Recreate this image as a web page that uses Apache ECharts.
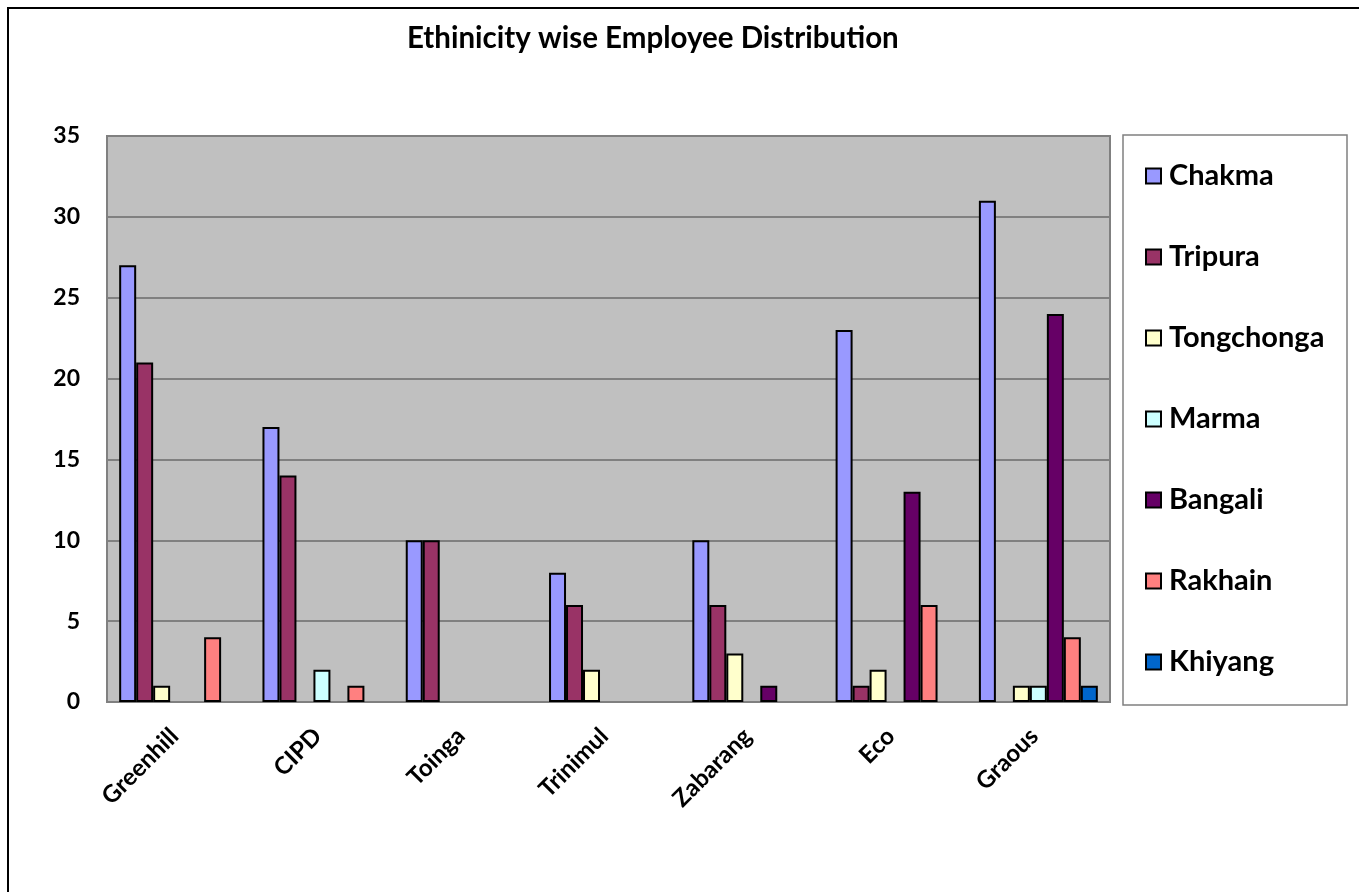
<!DOCTYPE html>
<html>
<head>
<meta charset="utf-8">
<script src="https://cdn.jsdelivr.net/npm/echarts@6/dist/echarts.min.js"></script>
<style>
  html, body { margin: 0; padding: 0; background: #fff; }
  #chart { width: 1359px; height: 892px; }
</style>
</head>
<body>
<div id="chart"></div>
<script>
// categories (x axis)
const companies = ['Greenhill', 'CIPD', 'Toinga', 'Trinimul', 'Zabarang', 'Eco', 'Graous']
const yTicks = [0, 5, 10, 15, 20, 25, 30, 35]

// one array per ethnicity, same order as companies
const chakma     = [27, 17, 10, 8, 10, 23, 31]
const tripura    = [21, 14, 10, 6, 6, 1, 0]
const tongchonga = [1, 0, 0, 2, 3, 2, 1]
const marma      = [0, 2, 0, 0, 0, 0, 1]
const bangali    = [0, 0, 0, 0, 1, 13, 24]
const rakhain    = [4, 1, 0, 0, 0, 6, 4]
const khiyang    = [0, 0, 0, 0, 0, 0, 1]

const seriesList = [
  { name: 'Chakma', data: chakma, color: '#9999FF' },
  { name: 'Tripura', data: tripura, color: '#993366' },
  { name: 'Tongchonga', data: tongchonga, color: '#FFFFCC' },
  { name: 'Marma', data: marma, color: '#CCFFFF' },
  { name: 'Bangali', data: bangali, color: '#660066' },
  { name: 'Rakhain', data: rakhain, color: '#FF8080' },
  { name: 'Khiyang', data: khiyang, color: '#0066CC' }
]

const font = 'Lato, "Open Sans", sans-serif'
const myChart = echarts.init(document.getElementById('chart'))

const option = {
  animation: false,
  title: {
    text: 'Ethinicity wise Employee Distribution',
    left: 402,
    top: 18,
    textStyle: { fontFamily: font, fontSize: 29.5, fontWeight: 'bold', color: '#000' }
  },
  graphic: [
    { // outer chart border
      type: 'rect',
      shape: { x: 8, y: 8, width: 1400, height: 1000 },
      style: { fill: 'none', stroke: '#000', lineWidth: 2 },
      silent: true
    },
    { // legend frame
      type: 'rect',
      shape: { x: 1123, y: 135, width: 224, height: 570 },
      style: { fill: '#fff', stroke: '#808080', lineWidth: 1.5 },
      z: -1,
      silent: true
    }
  ],
  legend: {
    orient: 'vertical',
    left: 1140,
    top: 154,
    icon: 'rect',
    itemWidth: 15,
    itemHeight: 15,
    itemGap: 47,
    selectedMode: false,
    itemStyle: { borderColor: '#000', borderWidth: 2 },
    textStyle: { fontFamily: font, fontSize: 29, fontWeight: 'bold', color: '#000', lineHeight: 34, padding: [0, 0, 0, 3] },
    data: seriesList.map(s => s.name)
  },
  grid: {
    left: 107,
    top: 136,
    right: 249,
    bottom: 190,
    show: true,
    backgroundColor: '#C0C0C0',
    borderColor: '#808080',
    borderWidth: 2
  },
  xAxis: {
    type: 'category',
    data: companies,
    axisTick: { show: false },
    axisLine: { lineStyle: { color: '#808080', width: 2 } },
    axisLabel: {
      interval: 0,
      rotate: 45,
      margin: 26,
      padding: [0, 6, 0, 0],
      fontFamily: font,
      fontSize: 24,
      fontWeight: 'bold',
      color: '#000'
    }
  },
  yAxis: {
    type: 'value',
    min: yTicks[0],
    max: yTicks[yTicks.length - 1],
    interval: 5,
    axisLine: { show: true, lineStyle: { color: '#808080', width: 2 } },
    axisTick: { show: false },
    splitLine: { lineStyle: { color: '#808080', width: 2 } },
    axisLabel: {
      margin: 27,
      fontFamily: font,
      fontSize: 23,
      fontWeight: 'bold',
      color: '#000'
    }
  },
  series: seriesList.map(s => ({
    name: s.name,
    type: 'bar',
    // zero values get no outline, like the original
    data: s.data.map(v => v === 0 ? { value: v, itemStyle: { borderWidth: 0 } } : v),
    barGap: '0%',
    barCategoryGap: '17%',
    itemStyle: { color: s.color, borderColor: '#000', borderWidth: 2 }
  }))
}

myChart.setOption(option)
window.addEventListener('resize', function () {
  myChart.resize()
})
</script>
</body>
</html>
